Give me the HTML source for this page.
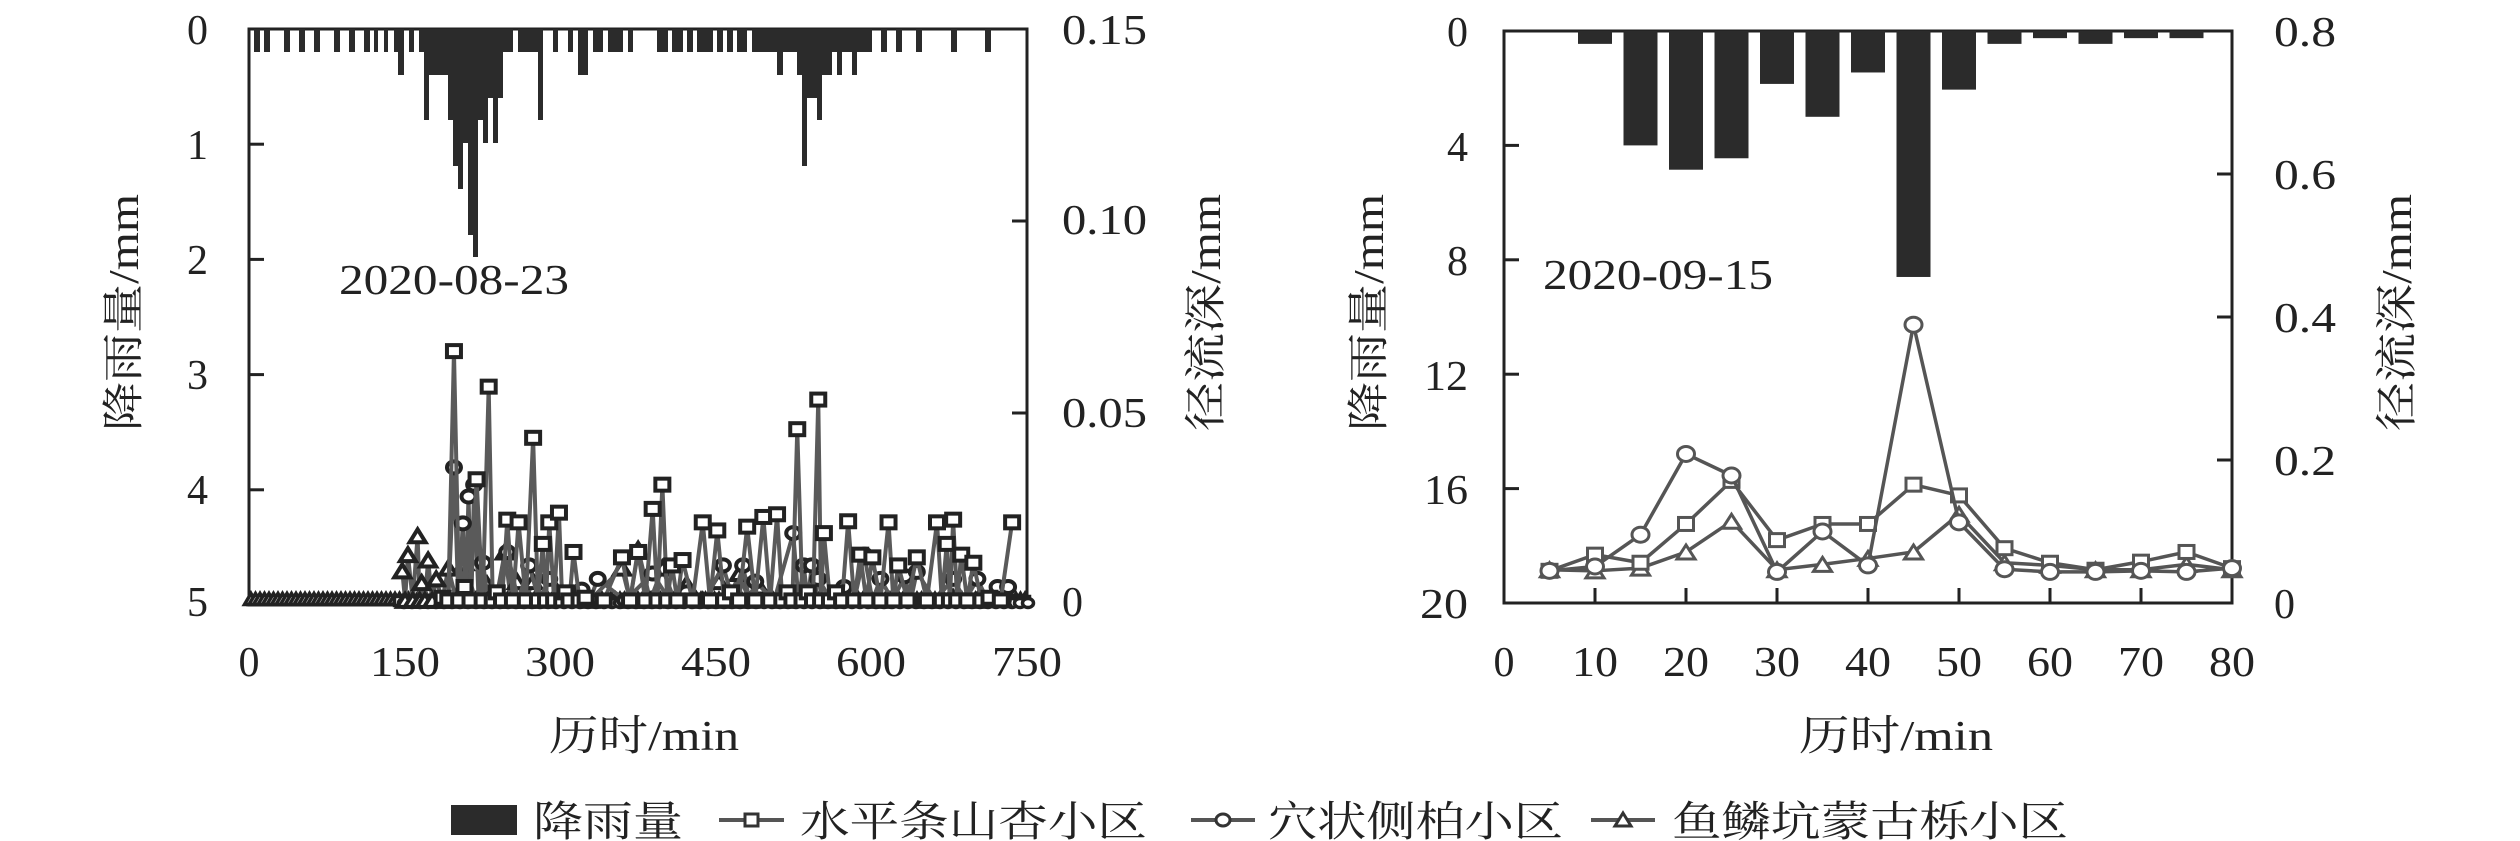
<!DOCTYPE html>
<html><head><meta charset="utf-8">
<style>
html,body{margin:0;padding:0;background:#fff;}
svg{display:block;}
text{font-family:"Liberation Serif","Noto Serif CJK SC","Noto Sans CJK SC",serif;fill:#222;}
</style></head>
<body>
<svg id="s" width="2520" height="841" viewBox="0 0 2520 841" xmlns="http://www.w3.org/2000/svg">
<g stroke="#222" stroke-width="3" fill="none">
<rect x="249" y="29" width="778" height="576"/>
<rect x="1504" y="31" width="728" height="572"/>
</g>
<g font-size="42">
<text x="208" y="44" text-anchor="end">0</text>
<text x="208" y="159" text-anchor="end">1</text>
<text x="208" y="274" text-anchor="end">2</text>
<text x="208" y="389" text-anchor="end">3</text>
<text x="208" y="504" text-anchor="end">4</text>
<text x="208" y="616" text-anchor="end">5</text>
<text x="1062" y="44" textLength="85" lengthAdjust="spacingAndGlyphs">0.15</text>
<text x="1062" y="234" textLength="85" lengthAdjust="spacingAndGlyphs">0.10</text>
<text x="1062" y="427" textLength="85" lengthAdjust="spacingAndGlyphs">0.05</text>
<text x="1062" y="616">0</text>
<text x="249" y="676" text-anchor="middle">0</text>
<text x="405" y="676" text-anchor="middle" textLength="70" lengthAdjust="spacingAndGlyphs">150</text>
<text x="560" y="676" text-anchor="middle" textLength="70" lengthAdjust="spacingAndGlyphs">300</text>
<text x="716" y="676" text-anchor="middle" textLength="70" lengthAdjust="spacingAndGlyphs">450</text>
<text x="871" y="676" text-anchor="middle" textLength="70" lengthAdjust="spacingAndGlyphs">600</text>
<text x="1027" y="676" text-anchor="middle" textLength="70" lengthAdjust="spacingAndGlyphs">750</text>
<text x="339" y="294" textLength="230" lengthAdjust="spacingAndGlyphs">2020-08-23</text>
<text x="549" y="750" textLength="190" lengthAdjust="spacingAndGlyphs">历时/min</text>
<text transform="translate(138,431) rotate(-90)" textLength="237" lengthAdjust="spacingAndGlyphs">降雨量/mm</text>
<text transform="translate(1220,431) rotate(-90)" textLength="237" lengthAdjust="spacingAndGlyphs">径流深/mm</text>
</g>
<g font-size="42">
<text x="1468" y="46" text-anchor="end">0</text>
<text x="1468" y="161" text-anchor="end">4</text>
<text x="1468" y="275" text-anchor="end">8</text>
<text x="1468" y="390" text-anchor="end" textLength="44" lengthAdjust="spacingAndGlyphs">12</text>
<text x="1468" y="504" text-anchor="end" textLength="44" lengthAdjust="spacingAndGlyphs">16</text>
<text x="1468" y="618" text-anchor="end" textLength="48" lengthAdjust="spacingAndGlyphs">20</text>
<text x="2274" y="46" textLength="62" lengthAdjust="spacingAndGlyphs">0.8</text>
<text x="2274" y="189" textLength="62" lengthAdjust="spacingAndGlyphs">0.6</text>
<text x="2274" y="332" textLength="62" lengthAdjust="spacingAndGlyphs">0.4</text>
<text x="2274" y="475" textLength="62" lengthAdjust="spacingAndGlyphs">0.2</text>
<text x="2274" y="618">0</text>
<text x="1504" y="676" text-anchor="middle">0</text>
<text x="1595" y="676" text-anchor="middle" textLength="46" lengthAdjust="spacingAndGlyphs">10</text>
<text x="1686" y="676" text-anchor="middle" textLength="46" lengthAdjust="spacingAndGlyphs">20</text>
<text x="1777" y="676" text-anchor="middle" textLength="46" lengthAdjust="spacingAndGlyphs">30</text>
<text x="1868" y="676" text-anchor="middle" textLength="46" lengthAdjust="spacingAndGlyphs">40</text>
<text x="1959" y="676" text-anchor="middle" textLength="46" lengthAdjust="spacingAndGlyphs">50</text>
<text x="2050" y="676" text-anchor="middle" textLength="46" lengthAdjust="spacingAndGlyphs">60</text>
<text x="2141" y="676" text-anchor="middle" textLength="46" lengthAdjust="spacingAndGlyphs">70</text>
<text x="2232" y="676" text-anchor="middle" textLength="46" lengthAdjust="spacingAndGlyphs">80</text>
<text x="1799" y="750" textLength="194" lengthAdjust="spacingAndGlyphs">历时/min</text>
<text transform="translate(1383,431) rotate(-90)" textLength="237" lengthAdjust="spacingAndGlyphs">降雨量/mm</text>
<text transform="translate(2411,431) rotate(-90)" textLength="237" lengthAdjust="spacingAndGlyphs">径流深/mm</text>
<text x="1543" y="289" textLength="230" lengthAdjust="spacingAndGlyphs">2020-09-15</text>
</g>
<g font-size="42">
<rect x="451" y="805" width="66" height="30" fill="#2b2b2b"/>
<text x="533" y="836" textLength="150" lengthAdjust="spacingAndGlyphs">降雨量</text>
<line x1="719" y1="820" x2="784" y2="820" stroke="#555" stroke-width="4"/>
<rect x="745" y="814" width="13" height="12" fill="#fff" stroke="#333" stroke-width="3"/>
<text x="800" y="836" textLength="347" lengthAdjust="spacingAndGlyphs">水平条山杏小区</text>
<line x1="1191" y1="820" x2="1255" y2="820" stroke="#555" stroke-width="4"/>
<ellipse cx="1223" cy="820" rx="7" ry="6" fill="#fff" stroke="#333" stroke-width="3"/>
<text x="1268" y="836" textLength="295" lengthAdjust="spacingAndGlyphs">穴状侧柏小区</text>
<line x1="1591" y1="820" x2="1655" y2="820" stroke="#555" stroke-width="4"/>
<polygon points="1623,813 1631,826 1615,826" fill="#fff" stroke="#333" stroke-width="3"/>
<text x="1672" y="836" textLength="396" lengthAdjust="spacingAndGlyphs">鱼鳞坑蒙古栎小区</text>
</g>
<g id="dyn"></g>
</svg>
<script>
var NS="http://www.w3.org/2000/svg",g=document.getElementById("dyn");
function el(t,a){var e=document.createElementNS(NS,t);for(var k in a)e.setAttribute(k,a[k]);g.appendChild(e);return e;}
for(var i=1;i<5;i++){var y=29+i*115.2;el("line",{x1:249,y1:y,x2:264,y2:y,stroke:"#222","stroke-width":3});}
[221,413].forEach(function(y){el("line",{x1:1012,y1:y,x2:1027,y2:y,stroke:"#222","stroke-width":3});});
for(i=1;i<5;i++){y=31+i*114.4;el("line",{x1:1504,y1:y,x2:1519,y2:y,stroke:"#222","stroke-width":3});}
for(i=1;i<4;i++){y=603-i*143;el("line",{x1:2217,y1:y,x2:2232,y2:y,stroke:"#222","stroke-width":3});}
for(i=1;i<8;i++){var x=1504+i*91;el("line",{x1:x,y1:603,x2:x,y2:588,stroke:"#222","stroke-width":3});}
var D={1:52,2:75,3:98,4:120,5:143,6:166,7:189,9:235,10:257};
var bars=[[254,260,1],[264,270,1],[284,290,1],[299,305,1],[314,320,1],[334,340,1],[349,355,1],[364,370,1],[374,378,1],[384,388,1],[394,398,1],[398,404,2],[409,414,1],[419,424,1],[424,429,4],[429,448,2],[448,453,4],[453,458,6],[458,463,7],[463,468,5],[468,473,9],[473,478,10],[478,483,4],[483,488,5],[488,493,3],[493,498,5],[498,503,3],[503,513,1],[518,538,1],[538,543,4],[553,558,1],[568,573,1],[578,588,2],[593,603,1],[608,623,1],[628,633,1],
[657,668,1],[672,683,1],[687,693,1],[697,713,1],[717,723,1],[727,733,1],[737,747,1],[752,777,1],[777,783,2],[783,797,1],[797,802,2],[802,807,6],[807,817,3],[817,822,4],[822,832,2],[832,837,1],[837,842,2],[842,852,1],[852,857,2],[857,872,1],[881,887,1],[896,902,1],[916,922,1],[951,957,1],[985,991,1]];
bars.forEach(function(b){el("rect",{x:b[0],y:29,width:b[1]-b[0],height:D[b[2]]-29,fill:"#2b2b2b"});});
var rv=[[10,.45],[15,4],[20,4.85],[25,4.45],[30,1.85],[35,3],[40,1.45],[45,8.6],[50,2.05],[55,.45],[60,.25],[65,.45],[70,.25],[75,.25]];
rv.forEach(function(r){var x=1504+r[0]*9.1;el("rect",{x:x-17,y:31,width:34,height:r[1]*28.6,fill:"#2b2b2b"});});
function mk(type,x,y,w,h,sw,stroke){
 if(type=="s")el("rect",{x:x-w/2,y:y-h/2,width:w,height:h,fill:"#fff",stroke:stroke,"stroke-width":sw});
 else if(type=="c")el("ellipse",{cx:x,cy:y,rx:w/2,ry:h/2,fill:"#fff",stroke:stroke,"stroke-width":sw});
 else el("polygon",{points:(x)+","+(y-h/2)+" "+(x+w/2)+","+(y+h/2)+" "+(x-w/2)+","+(y+h/2),fill:"#fff",stroke:stroke,"stroke-width":sw});
}
function series(pts,type,w,h,lc,mc,lw,msw){
 el("polyline",{points:pts.map(function(p){return p[0]+","+p[1]}).join(" "),fill:"none",stroke:lc,"stroke-width":lw,"stroke-linejoin":"round"});
 pts.forEach(function(p){mk(type,p[0],p[1],w,h,msw||3,mc);});
}
function conv(a){return a.map(function(p){return [p[0]/1.238,p[1]/1.857];});}
function interleave(a,base){var r=[];for(var i=0;i<a.length;i++){r.push(a[i]);if(i<a.length-1){r.push([(a[i][0]+a[i+1][0])/2,base]);}}return r;}
var sq=[[548,1110],[562,652],[575,1090],[590,890],[605,718],[615,1100],[628,965],[642,970],[660,813],[672,1010],[680,970],[692,952],[700,1100],[710,1025],[725,1110],[770,1035],[790,1025],[808,945],[820,900],[832,1050],[845,1040],[870,970],[888,985],[905,1100],[925,978],[945,960],[962,955],[975,1100],[987,797],[1000,1100],[1013,742],[1020,990],[1035,1100],[1050,968],[1065,1030],[1080,1035],[1100,970],[1112,1050],[1135,1035],[1160,970],[1172,1010],[1180,965],[1190,1030],[1205,1045],[1225,1110],[1253,970]];
var ci=[[548,1115],[562,868],[573,972],[580,922],[587,900],[598,1045],[610,1110],[628,1025],[655,1050],[680,1075],[720,1095],[740,1075],[808,1065],[850,1100],[895,1050],[920,1050],[935,1080],[982,990],[995,1050],[1005,1050],[1013,1075],[1045,1090],[1070,1030],[1090,1075],[1120,1070],[1135,1062],[1180,1075],[1210,1075],[1235,1090],[1248,1090]];
var tr=[[498,1060],[505,1030],[517,995],[522,1082],[530,1040],[540,1075],[555,1055],[575,1045],[603,1085],[625,1025],[640,1080],[660,1080],[690,1100],[770,1055],[790,1020],[820,1055],[850,1085],[890,1080],[915,1065],[940,1090],[1000,1110],[1060,1110],[1120,1110],[1180,1110],[1240,1110]];
var base=[];for(x=251;x<=1025;x+=4.5)base.push([x,599]);
series(base,"t",13,11,"#333","#222",4,3.5);
var bsq=[];for(x=400;x<=1025;x+=8)bsq.push([x,601]);
bsq.forEach(function(p){mk("s",p[0],p[1],11,9,3.5,"#222");});
bsq.forEach(function(p){mk("c",p[0]+4,p[1]+2,11,9,3.5,"#222");});
series(conv(interleave(tr,1115)),"t",16,13,"#5a5a5a","#222",4,4);
series(conv(interleave(ci,1115)),"c",14,12,"#5a5a5a","#222",4,4);
series(conv(interleave(sq,1115)),"s",14,12,"#5a5a5a","#222",4,4);
function rp(a){return a.map(function(p){return[1504+p[0]*9.1,p[1]/1.857];});}
var T=[5,10,15,20,25,30,35,40,45,50,55,60,65,70,75,80];
var S=[1060,1030,1045,973,893,1003,973,973,900,920,1018,1045,1058,1043,1025,1055];
var Tr=[1058,1060,1055,1025,968,1058,1048,1037,1025,955,1045,1050,1058,1058,1048,1058];
var C=[1060,1052,993,843,883,1062,987,1050,603,970,1057,1062,1062,1060,1062,1055];
function z(v){return T.map(function(t,i){return[t,v[i]];});}
series(rp(z(Tr)),"t",18,14,"#555","#555",3.5);
series(rp(z(S)),"s",15,13,"#555","#555",3.5);
series(rp(z(C)),"c",17,15,"#555","#555",3.5);
</script>
</body></html>
